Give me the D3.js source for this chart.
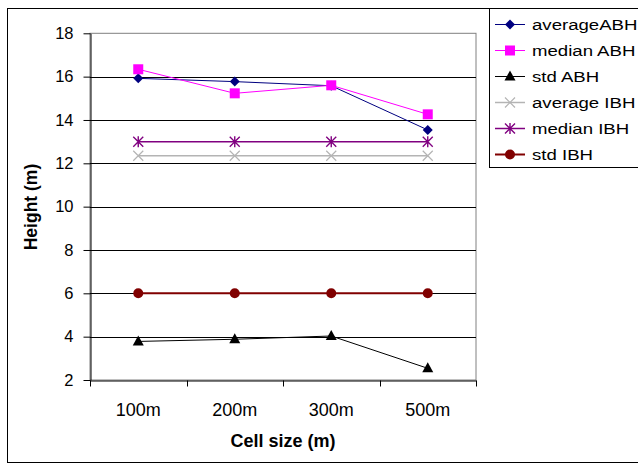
<!DOCTYPE html>
<html>
<head>
<meta charset="utf-8">
<script src="https://cdn.jsdelivr.net/npm/d3@7"></script>
<style>
  body { margin: 0; background: #fff; }
  svg { display: block; font-family: "Liberation Sans", Arial, sans-serif; }
</style>
</head>
<body>
<div id="chart"></div>
<script>
const width = 638;
const height = 464;

// data
const categories = ["100m", "200m", "300m", "500m"];
const averageABH = [15.92, 15.77, 15.58, 13.54];
const medianABH = [16.34, 15.23, 15.6, 14.26];
const stdABH = [3.78, 3.88, 4.03, 2.54];
const averageIBH = [12.35, 12.35, 12.35, 12.35];
const medianIBH = [13, 13, 13, 13];
const stdIBH = [6, 6, 6, 6];
const yTicks = [2, 4, 6, 8, 10, 12, 14, 16, 18];

const series = [
  {name: "averageABH", values: averageABH, color: "#000080", marker: "diamond", lw: 1},
  {name: "median ABH", values: medianABH, color: "#ff00ff", marker: "square", lw: 1},
  {name: "std ABH", values: stdABH, color: "#000000", marker: "triangle", lw: 1},
  {name: "average IBH", values: averageIBH, color: "#b4b4b4", marker: "x", lw: 1.5},
  {name: "median IBH", values: medianIBH, color: "#800080", marker: "star", lw: 1.5},
  {name: "std IBH", values: stdIBH, color: "#800000", marker: "circle", lw: 2}
];

const plot = {left: 90, right: 476, top: 33.3, bottom: 380};

const svg = d3.select("#chart").append("svg")
    .attr("width", width)
    .attr("height", height);

// outer chart frame
svg.append("rect")
    .attr("x", 7.5).attr("y", 8.5)
    .attr("width", width + 10).attr("height", height - 10)
    .attr("fill", "none").attr("stroke", "#000");

const x = d3.scaleBand().domain(categories).range([plot.left, plot.right]);
const y = d3.scaleLinear().domain([2, 18]).range([plot.bottom, plot.top]);

// plot border (gray)
svg.append("rect")
    .attr("x", plot.left).attr("y", plot.top)
    .attr("width", plot.right - plot.left).attr("height", plot.bottom - plot.top)
    .attr("fill", "none").attr("stroke", "#808080");

// grid lines
svg.append("g")
  .selectAll("line")
  .data(yTicks.filter(d => d > 2 && d < 18))
  .join("line")
    .attr("x1", plot.left).attr("x2", plot.right)
    .attr("y1", d => Math.round(y(d)) + 0.5).attr("y2", d => Math.round(y(d)) + 0.5)
    .attr("stroke", "#000");

// y axis
const yAxis = svg.append("g")
    .attr("transform", `translate(${plot.left + 0.5},0)`)
    .call(d3.axisLeft(y).tickValues(yTicks).tickSize(7).tickPadding(10).tickSizeOuter(0));
yAxis.selectAll("text").attr("font-size", 16.5).attr("fill", "#000").attr("font-family", null);
yAxis.select(".domain").attr("stroke", "#000");

// x axis
const xAxis = svg.append("g")
    .attr("transform", `translate(0,${plot.bottom + 0.5})`)
    .call(d3.axisBottom(x).tickSize(0).tickPadding(23));
xAxis.selectAll("text").attr("font-size", 18).attr("fill", "#000").attr("font-family", null);
xAxis.select(".domain").attr("stroke", "#000");
xAxis.append("g")
  .selectAll("line")
  .data(categories.map(c => x(c)).concat([plot.right]))
  .join("line")
    .attr("x1", d => Math.round(d) + 0.5).attr("x2", d => Math.round(d) + 0.5)
    .attr("y1", 0).attr("y2", 6)
    .attr("stroke", "#000");

// axis titles
svg.append("text")
    .attr("x", 283).attr("y", 447)
    .attr("text-anchor", "middle")
    .attr("font-size", 18).attr("font-weight", "bold")
    .text("Cell size (m)");

svg.append("text")
    .attr("transform", "translate(37,207) rotate(-90)")
    .attr("text-anchor", "middle")
    .attr("font-size", 17.5).attr("font-weight", "bold")
    .text("Height (m)");

// marker drawing
function drawMarker(g, type, color) {
  const s = 5;
  if (type === "diamond") {
    g.append("path").attr("d", `M0,${-s}L${s},0L0,${s}L${-s},0Z`).attr("fill", color);
  } else if (type === "square") {
    g.append("rect").attr("x", -5).attr("y", -5).attr("width", 10).attr("height", 10).attr("fill", color);
  } else if (type === "triangle") {
    g.append("path").attr("d", `M0,-6L5.5,4L-5.5,4Z`).attr("fill", color);
  } else if (type === "circle") {
    g.append("circle").attr("r", 5).attr("fill", color);
  } else if (type === "x") {
    g.append("path").attr("d", `M-5,-5L5,5M-5,5L5,-5`)
        .attr("stroke", color).attr("stroke-width", 1.2).attr("fill", "none");
  } else if (type === "star") {
    g.append("path").attr("d", `M-5,-5L5,5M-5,5L5,-5M0,-5.5L0,5.5`)
        .attr("stroke", color).attr("stroke-width", 1.4).attr("fill", "none");
  }
}

// series lines and markers
const line = d3.line()
    .x((d, i) => x(categories[i]) + x.bandwidth() / 2)
    .y(d => y(d));

const drawOrder = [3, 4, 5, 2, 0, 1];
drawOrder.forEach(k => {
  const s = series[k];
  svg.append("path")
      .datum(s.values)
      .attr("d", line)
      .attr("fill", "none")
      .attr("stroke", s.color)
      .attr("stroke-width", s.lw);
  s.values.forEach((v, i) => {
    const g = svg.append("g")
        .attr("transform", `translate(${x(categories[i]) + x.bandwidth() / 2},${y(v)})`);
    drawMarker(g, s.marker, s.color);
  });
});

// legend
const legend = svg.append("g");
legend.append("rect")
    .attr("x", 489.5).attr("y", 8.5)
    .attr("width", 160).attr("height", 159)
    .attr("fill", "#fff").attr("stroke", "#000");

series.forEach((s, i) => {
  const cy = 24.5 + i * 26;
  legend.append("line")
      .attr("x1", 495).attr("x2", 525)
      .attr("y1", cy).attr("y2", cy)
      .attr("stroke", s.color).attr("stroke-width", s.lw);
  const g = legend.append("g").attr("transform", `translate(510,${cy})`);
  drawMarker(g, s.marker, s.color);
  legend.append("text")
      .attr("transform", `translate(532,${cy + 5.5}) scale(1.2,1)`)
      .attr("font-size", 15.5)
      .text(s.name);
});
</script>
</body>
</html>
